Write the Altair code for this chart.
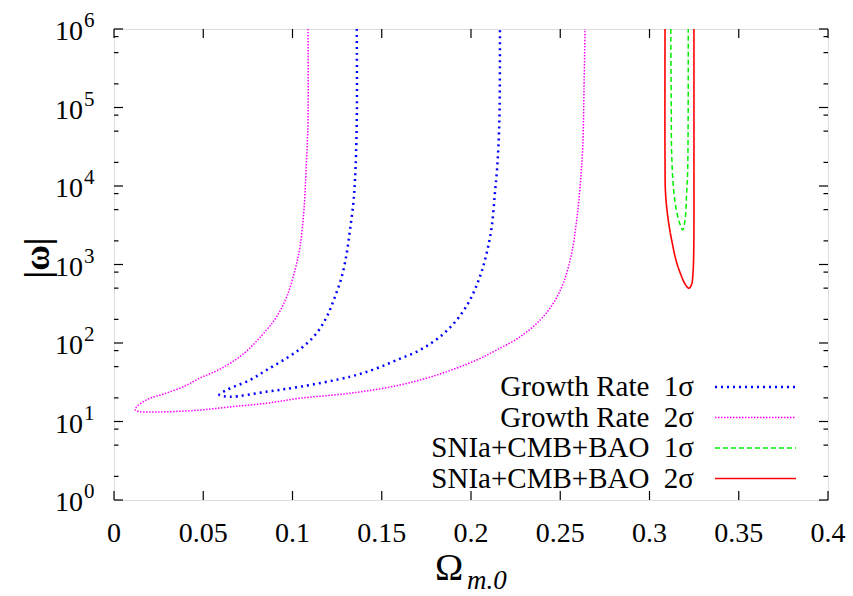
import altair as alt
import pandas as pd

# ---------------- data ----------------
gr1_x = [0.1360, 0.1360, 0.1350, 0.1341, 0.1322, 0.1304, 0.1276, 0.1238, 0.1192, 0.1136,
         0.1059, 0.0968, 0.0855, 0.0762, 0.0631, 0.0590, 0.0650, 0.0855, 0.1042, 0.1322,
         0.1462, 0.1584, 0.1714, 0.1826, 0.1920, 0.1994, 0.2050, 0.2088, 0.2116, 0.2134,
         0.2147, 0.2159, 0.2162]
gr1_y = [1e6, 63100, 11900, 6070, 2750, 1400, 700, 389, 216, 134,
         89.7, 64.4, 45.3, 33.8, 25.2, 21.8, 20.7, 24.0, 27.7, 37.2,
         46.7, 60.7, 81.5, 120, 196, 353, 700, 1400, 3030, 8150,
         17600, 69300, 1e6]

gr2_x = [0.1087, 0.1087, 0.1076, 0.1064, 0.1042, 0.1014, 0.0968, 0.0911, 0.0855, 0.0723,
         0.0590, 0.0482, 0.0388, 0.0280, 0.0202, 0.0150, 0.0125, 0.0118, 0.0140, 0.0200,
         0.0295, 0.0482, 0.0667,
         0.0855, 0.1042, 0.1322, 0.1602, 0.1826, 0.2032, 0.2144, 0.2275, 0.2387, 0.2461,
         0.2517, 0.2564, 0.2592, 0.2611, 0.2626, 0.2633, 0.2639]
gr2_y = [1e6, 69300, 16000, 4940, 1690, 851, 389, 216, 147, 72.0,
         46.0, 35.8, 27.7, 22.5, 19.8, 17.0, 15.2, 14.2, 13.4, 13.2,
         13.3, 14.0, 15.5,
         17.1, 19.8, 22.9, 29.2, 40.3, 60.7, 81.5, 120, 196, 321,
         577, 1400, 3690, 9790, 31700, 167000, 1e6]

sn1_x = [0.3119, 0.3122, 0.3124, 0.3135, 0.3150, 0.3170, 0.3186, 0.3199, 0.3208, 0.3214, 0.3217]
sn1_y = [1e6, 100000, 26300, 9000, 5000, 3300, 2750, 3690, 8000, 16000, 1e6]

sn2_x = [0.3087, 0.3087, 0.3090, 0.3105, 0.3125, 0.3150, 0.3175, 0.3200, 0.3221, 0.3236,
         0.3244, 0.3248, 0.3249, 0.3249]
sn2_y = [1e6, 21400, 8000, 3690, 2000, 1100, 750, 560, 498, 560,
         800, 1600, 26300, 1e6]

series_labels = ["Growth Rate\u00a0\u00a01\u03c3", "Growth Rate\u00a0\u00a02\u03c3",
                 "SNIa+CMB+BAO\u00a0\u00a01\u03c3", "SNIa+CMB+BAO\u00a0\u00a02\u03c3"]

x_ticks = [0, 0.05, 0.1, 0.15, 0.2, 0.25, 0.3, 0.35, 0.4]
x_tick_labels = ["0", "0.05", "0.1", "0.15", "0.2", "0.25", "0.3", "0.35", "0.4"]
y_major = [1, 10, 100, 1000, 10000, 100000, 1000000]
y_tick_exponents = ["0", "1", "2", "3", "4", "5", "6"]
y_minor = [2, 5, 8, 20, 50, 80, 200, 500, 800, 2000, 5000, 8000,
           20000, 50000, 80000, 200000, 500000, 800000]

# ---------------- styling ----------------
W, H = 714, 471
FONT = "Liberation Serif"
styles = [
    dict(color="#0000ff", dash=[2, 4], width=2.5),
    dict(color="#ff00ff", dash=[1.5, 1.5], width=1.5),
    dict(color="#00ee00", dash=[5, 3], width=1.5),
    dict(color="#ff0000", dash=[1, 0], width=1.6),
]

xscale = alt.Scale(domain=[0, 0.4], nice=False, zero=False)
yscale = alt.Scale(type="log", domain=[1, 1e6], nice=False)

X = lambda f: alt.X(f, scale=xscale, axis=None)
Y = lambda f: alt.Y(f, scale=yscale, axis=None)

layers = []
all_series = [(gr1_x, gr1_y), (gr2_x, gr2_y), (sn1_x, sn1_y), (sn2_x, sn2_y)]
for (xs, ys), st in zip(all_series, styles):
    df = pd.DataFrame({"x": xs, "y": ys, "i": list(range(len(xs)))})
    layers.append(
        alt.Chart(df).mark_line(color=st["color"], strokeDash=st["dash"],
                                strokeWidth=st["width"], clip=True,
                                interpolate="catmull-rom")
        .encode(x=X("x:Q"), y=Y("y:Q"), order="i:Q")
    )

# inward ticks (gnuplot style), mirrored on all sides
xt = pd.DataFrame({"x": x_ticks, "t": x_tick_labels})
layers.append(alt.Chart(xt).mark_rule(color="black", strokeWidth=1.2).encode(
    x=X("x:Q"), y=alt.value(H), y2=alt.value(H - 9)))
layers.append(alt.Chart(xt).mark_rule(color="black", strokeWidth=1.2).encode(
    x=X("x:Q"), y=alt.value(0), y2=alt.value(9)))
ym = pd.DataFrame({"y": y_major, "e": y_tick_exponents, "b": ["10"] * len(y_major)})
yn = pd.DataFrame({"y": y_minor})
for dfv, ln in ((ym, 9), (yn, 4.5)):
    layers.append(alt.Chart(dfv).mark_rule(color="black", strokeWidth=1.2).encode(
        y=Y("y:Q"), x=alt.value(0), x2=alt.value(ln)))
    layers.append(alt.Chart(dfv).mark_rule(color="black", strokeWidth=1.2).encode(
        y=Y("y:Q"), x=alt.value(W), x2=alt.value(W - ln)))

# tick labels
layers.append(alt.Chart(xt).mark_text(
    font=FONT, fontSize=28, align="center", baseline="alphabetic", color="black"
).encode(x=X("x:Q"), y=alt.value(513), text="t:N"))
layers.append(alt.Chart(ym).mark_text(
    font=FONT, fontSize=28, align="right", baseline="alphabetic", dy=11, color="black"
).encode(y=Y("y:Q"), x=alt.value(-31), text="b:N"))
layers.append(alt.Chart(ym).mark_text(
    font=FONT, fontSize=21, align="left", baseline="alphabetic", dy=-2, color="black"
).encode(y=Y("y:Q"), x=alt.value(-30), text="e:N"))

# key inside the plot (labels left of samples, like gnuplot)
key_y = [358, 388.5, 419, 449.5]
for lab, st, ky in zip(series_labels, styles, key_y):
    layers.append(alt.Chart(pd.DataFrame({"t": [lab]})).mark_text(
        align="right", baseline="middle", font=FONT, fontSize=29, color="black"
    ).encode(text="t:N", x=alt.value(580), y=alt.value(ky)))
    layers.append(alt.Chart(pd.DataFrame({"t": [lab]})).mark_rule(
        color=st["color"], strokeDash=st["dash"], strokeWidth=st["width"]
    ).encode(x=alt.value(601), x2=alt.value(682), y=alt.value(ky)))

# axis titles
layers.append(alt.Chart(pd.DataFrame({"t": ["|\u03c9|"]})).mark_text(
    font=FONT, fontSize=35, fontWeight="bold", angle=270, baseline="middle", align="center",
    color="black").encode(text="t:N", x=alt.value(-76), y=alt.value(229)))
layers.append(alt.Chart(pd.DataFrame({"t": ["\u03a9"]})).mark_text(
    font=FONT, fontSize=38, baseline="alphabetic", align="center", color="black"
).encode(text="t:N", x=alt.value(335), y=alt.value(551)))
layers.append(alt.Chart(pd.DataFrame({"t": ["m.0"]})).mark_text(
    font=FONT, fontSize=27, fontStyle="italic", baseline="alphabetic", align="left",
    color="black").encode(text="t:N", x=alt.value(353), y=alt.value(560)))

chart = alt.layer(*layers).properties(
    width=W, height=H,
    autosize=alt.AutoSizeParams(type="none"),
    padding={"left": 114, "top": 29, "right": 25, "bottom": 96},
).configure_view(stroke="black", strokeWidth=1.6).configure(background="white")

chart.save("out.html", embed_options={"renderer": "svg", "actions": False})
